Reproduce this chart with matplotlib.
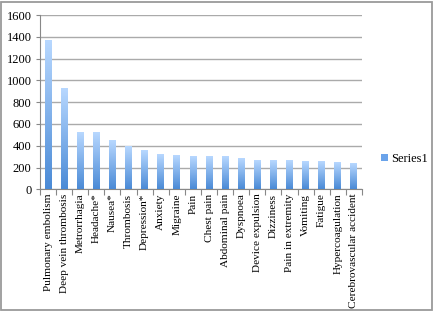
import matplotlib.pyplot as plt
import matplotlib.patches as patches
from matplotlib.colors import LinearSegmentedColormap
import numpy as np

categories = ['Pulmonary embolism', 'Deep vein thrombosis', 'Metrorrhagia', 'Headache*',
              'Nausea*', 'Thrombosis', 'Depression*', 'Anxiety', 'Migraine', 'Pain',
              'Chest pain', 'Abdominal pain', 'Dyspnoea', 'Device expulsion', 'Dizziness',
              'Pain in extremity', 'Vomiting', 'Fatigue', 'Hypercoagulation',
              'Cerebrovascular accident']
values = [1362, 920, 523, 514, 441, 390, 350, 320, 308, 300,
          296, 294, 276, 266, 264, 258, 254, 248, 242, 238]
yticks = [0, 200, 400, 600, 800, 1000, 1200, 1400, 1600]

plt.rcParams['font.family'] = ['Liberation Serif', 'DejaVu Serif']
plt.rcParams['font.size'] = 9

fig = plt.figure(figsize=(4.35, 3.13), dpi=100)
ax = fig.add_axes([0.092, 0.395, 0.740, 0.557])

# outer frame of the chart
fig.patches.append(patches.Rectangle((0.003, 0.008), 0.991, 0.986, transform=fig.transFigure,
                                     fill=False, edgecolor='#9a9a9a', linewidth=1.3))

x = np.arange(len(categories))
bars = ax.bar(x, values, width=0.42, color='none', label='Series1', zorder=2)

# vertical gradient in each bar, light at top, darker at bottom
grad = np.linspace(0, 1, 256).reshape(-1, 1)
cmap = LinearSegmentedColormap.from_list('bar', ['#4a8ad6', '#b8d8ff'])
for b in bars:
    bx, by = b.get_x(), b.get_y()
    w, h = b.get_width(), b.get_height()
    ax.imshow(grad, cmap=cmap, aspect='auto', origin='lower', interpolation='bilinear',
              extent=[bx, bx + w, by, by + h], zorder=3)

ax.set_xlim(-0.5, len(categories) - 0.5)
ax.set_ylim(0, 1600)
ax.set_yticks(yticks)
ax.set_xticks(x)
ax.set_xticklabels(categories, rotation=90, fontsize=8.1)
ax.set_xticks(np.arange(-0.5, len(categories)), minor=True)
ax.tick_params(axis='x', which='major', length=0, pad=3)
ax.tick_params(axis='x', which='minor', length=4, color='#888888', width=0.8)
ax.tick_params(axis='y', length=3, color='#888888', width=0.8, pad=3)
ax.grid(axis='y', color='#aaaaaa', linewidth=1.0, zorder=0)
ax.set_axisbelow(True)
for s in ['top', 'right']:
    ax.spines[s].set_visible(False)
for s in ['left', 'bottom']:
    ax.spines[s].set_color('#888888')
    ax.spines[s].set_linewidth(0.8)

leg = ax.legend(loc='center left', bbox_to_anchor=(1.045, 0.175), frameon=False,
                handlelength=0.5, handleheight=0.5, handletextpad=0.3, borderaxespad=0)
for h in leg.legend_handles:
    h.set_facecolor('#6aa3ea')

fig.savefig('out.png', dpi=100)
